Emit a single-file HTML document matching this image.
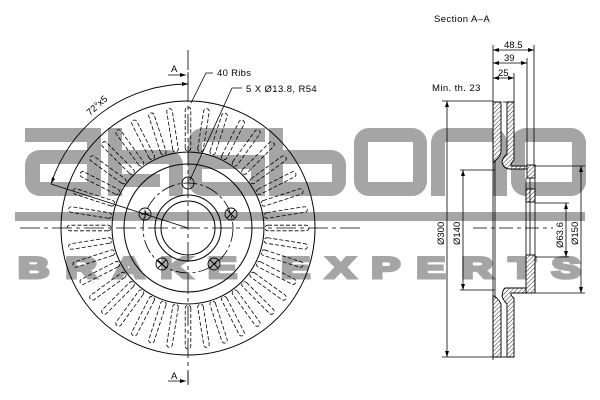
<!DOCTYPE html>
<html><head><meta charset="utf-8"><style>
html,body{margin:0;padding:0;background:#fff;}
svg{display:block;}
text{font-family:"Liberation Sans",sans-serif;}
</style></head><body>
<svg width="600" height="400" viewBox="0 0 600 400" xmlns="http://www.w3.org/2000/svg">
<defs>
<pattern id="h" width="3" height="3" patternUnits="userSpaceOnUse" patternTransform="rotate(45)">
<rect width="3" height="3" fill="#fff"/><line x1="0" y1="0" x2="0" y2="3" stroke="#000" stroke-width="0.8"/>
</pattern>
<path id="slot" d="M-2.8,-80 L-2.8,-118 A2.8,2.8 0 0 1 2.8,-118 L2.8,-80 A2.8,2.8 0 0 1 -2.8,-80 Z" fill="none" stroke="#000" stroke-width="0.8" stroke-dasharray="4,2"/>
</defs>

<g fill="#a5a5a5" stroke="none">
<rect x="25" y="128" width="76" height="14"/>
<rect x="87" y="128" width="14" height="68"/>
<path d="M40,150 H101 V196 H40 A15,15 0 0 1 25,181 V165 A15,15 0 0 1 40,150 Z M40,164 V182 H87 V164 Z" fill-rule="evenodd"/>
<rect x="108" y="128" width="14" height="68"/>
<path d="M108,150 H168 A15,15 0 0 1 183,165 V196 H169 V164 H122 V174 H160 V187 H108 Z"/>
<path d="M203,128 H265 V142 H203 A2,2 0 0 0 202,143 V155 H265 V196 H203 A15,15 0 0 1 188,181 V143 A15,15 0 0 1 203,128 Z M202,169 V181 A2,2 0 0 0 203,182 H251 V169 Z" fill-rule="evenodd"/>
<path d="M269,128 H283 V150 H331 A15,15 0 0 1 346,165 V181 A15,15 0 0 1 331,196 H269 Z M283,164 V182 H332 V164 Z" fill-rule="evenodd"/>
<path d="M369,128 H412 A15,15 0 0 1 427,143 V181 A15,15 0 0 1 412,196 H369 A15,15 0 0 1 354,181 V143 A15,15 0 0 1 369,128 Z M368,142 V182 H413 V142 Z" fill-rule="evenodd"/>
<path d="M446,128 H492 A15,15 0 0 1 507,143 V196 H493 V142 H445 V196 H431 V143 A15,15 0 0 1 446,128 Z"/>
<path d="M526,128 H571 A15,15 0 0 1 586,143 V181 A15,15 0 0 1 571,196 H526 A15,15 0 0 1 511,181 V143 A15,15 0 0 1 526,128 Z M525,142 V182 H572 V142 Z" fill-rule="evenodd"/>
<rect x="15" y="212" width="570" height="9"/>
<text transform="translate(18,278) scale(1.45,1)" x="0" y="0" font-size="30" font-weight="bold" stroke="#a5a5a5" stroke-width="3" textLength="388" lengthAdjust="spacing">BRAKE EXPERTS</text>
</g>

<g fill="none" stroke="#000" stroke-width="1">
<circle cx="188" cy="228" r="127"/>
<circle cx="188" cy="228" r="76"/>
<circle cx="188" cy="228" r="64"/>
<circle cx="188" cy="228" r="45" stroke-dasharray="14,3,3,3" stroke-width="0.8"/>
<circle cx="188" cy="228" r="33"/>
<circle cx="188" cy="228" r="27"/>
<g stroke-width="0.9">
<circle cx="188" cy="183" r="6"/>
<circle cx="231" cy="214" r="6"/><path d="M227,210 L235,218 M235,210 L227,218"/>
<circle cx="214" cy="264" r="6"/><path d="M210,260 L218,268 M218,260 L210,268"/>
<circle cx="162" cy="264" r="6"/><path d="M158,260 L166,268 M166,260 L158,268"/>
<circle cx="145" cy="214" r="6"/><path d="M141,214 H149 M145,210 V218"/>
</g>
<path d="M20,228 H360" stroke-width="0.8" stroke-dasharray="20,4,4,4"/>
<path d="M188,50 V385" stroke-width="0.8" stroke-dasharray="20,4,4,4"/>
<path d="M168,75 H186 M188,72 V84 M168,381 H186 M188,372 V384" stroke-width="0.8"/>
<path d="M188,84 A144,144 0 0 0 51,184" stroke-width="0.9"/>
<path d="M51,184 L188,228" stroke-width="0.8"/>
<path d="M213,73 H206 L191,103" stroke-width="0.8"/>
<path d="M242,88 H232 L190,180" stroke-width="0.8"/>
</g>
<g fill="#000">
<path d="M186,75 l-6,-2 v4 z"/><path d="M186,381 l-6,-2 v4 z"/>
<path d="M188,84 l-6,-2 l0,4 z"/>
<path d="M51,184 l1,-7 l3,2 z"/>
</g>
<g>
<use href="#slot" transform="translate(188,228) rotate(0)"/><use href="#slot" transform="translate(188,228) rotate(9)"/><use href="#slot" transform="translate(188,228) rotate(18)"/><use href="#slot" transform="translate(188,228) rotate(27)"/><use href="#slot" transform="translate(188,228) rotate(36)"/><use href="#slot" transform="translate(188,228) rotate(45)"/><use href="#slot" transform="translate(188,228) rotate(54)"/><use href="#slot" transform="translate(188,228) rotate(63)"/><use href="#slot" transform="translate(188,228) rotate(72)"/><use href="#slot" transform="translate(188,228) rotate(81)"/>
<use href="#slot" transform="translate(188,228) rotate(90)"/><use href="#slot" transform="translate(188,228) rotate(99)"/><use href="#slot" transform="translate(188,228) rotate(108)"/><use href="#slot" transform="translate(188,228) rotate(117)"/><use href="#slot" transform="translate(188,228) rotate(126)"/><use href="#slot" transform="translate(188,228) rotate(135)"/><use href="#slot" transform="translate(188,228) rotate(144)"/><use href="#slot" transform="translate(188,228) rotate(153)"/><use href="#slot" transform="translate(188,228) rotate(162)"/><use href="#slot" transform="translate(188,228) rotate(171)"/>
<use href="#slot" transform="translate(188,228) rotate(180)"/><use href="#slot" transform="translate(188,228) rotate(189)"/><use href="#slot" transform="translate(188,228) rotate(198)"/><use href="#slot" transform="translate(188,228) rotate(207)"/><use href="#slot" transform="translate(188,228) rotate(216)"/><use href="#slot" transform="translate(188,228) rotate(225)"/><use href="#slot" transform="translate(188,228) rotate(234)"/><use href="#slot" transform="translate(188,228) rotate(243)"/><use href="#slot" transform="translate(188,228) rotate(252)"/><use href="#slot" transform="translate(188,228) rotate(261)"/>
<use href="#slot" transform="translate(188,228) rotate(270)"/><use href="#slot" transform="translate(188,228) rotate(279)"/><use href="#slot" transform="translate(188,228) rotate(288)"/><use href="#slot" transform="translate(188,228) rotate(297)"/><use href="#slot" transform="translate(188,228) rotate(306)"/><use href="#slot" transform="translate(188,228) rotate(315)"/><use href="#slot" transform="translate(188,228) rotate(324)"/><use href="#slot" transform="translate(188,228) rotate(333)"/><use href="#slot" transform="translate(188,228) rotate(342)"/><use href="#slot" transform="translate(188,228) rotate(351)"/>
</g>

<g font-size="9.5" fill="#000">
<text x="171" y="72">A</text>
<text x="171" y="379">A</text>
<text x="217" y="76" letter-spacing="0.3">40  Ribs</text>
<text x="246" y="92" letter-spacing="0.4">5  X  Ø13.8,  R54</text>
<text x="0" y="0" transform="translate(90,116) rotate(-42)">72°x5</text>
<text x="434" y="22" letter-spacing="0.4">Section  A–A</text>
<text x="432" y="91" letter-spacing="0.4">Min.  th.  23</text>
<text x="504" y="48">48.5</text>
<text x="504" y="61">39</text>
<text x="498" y="76">25</text>
<text transform="translate(444,245) rotate(-90)">Ø300</text>
<text transform="translate(460,245) rotate(-90)">Ø140</text>
<text transform="translate(563,248) rotate(-90)">Ø63.6</text>
<text transform="translate(578,245) rotate(-90)">Ø150</text>
</g>

<g fill="url(#h)" stroke="#000" stroke-width="0.9">
<path d="M493,102 H501 V150 Q501,155 498,158 Q496,160 494,162 L493,162 Z"/>
<path d="M507,102 H514 V160 Q510,164 511,166 H527 V169 H509 Q503,168 502,162 Q503,157 507,154 Z"/>
<rect x="527" y="165" width="8" height="13"/>
<rect x="526" y="189" width="9" height="13"/>
<rect x="526" y="255" width="9" height="38"/>
<path d="M505,288 H526 V293 H511 Q510,295 514,298 V357 H507 V304 Q503,300 502,296 Q503,289 505,288 Z"/>
<path d="M493,296 L494,296 Q498,298 501,304 V357 H493 Z"/>
</g>
<g fill="none" stroke="#000" stroke-width="0.8">
<path d="M493,45 V360 M495,160 V298 M534,45 V166 M527,58 V165 M514,73 V102"/>
<path d="M526,178 V255 M530,178 V255 M535,165 V293"/>
<path d="M493,50 H534 M493,63 H527 M493,78 H514"/>
<path d="M447,101 V357 M442,101 H493 M442,357 H507"/>
<path d="M463,170 V290 M460,170 H495 M460,290 H495"/>
<path d="M566,203 V257 M535,203 H569 M535,257 H569"/>
<path d="M581,166 V293 M535,166 H585 M535,293 H585"/>
<path d="M473,228 H553" stroke-dasharray="14,4,4,4"/>
<path d="M503,102 H507 M503,357 H507"/>
</g>
<g fill="#000">
<path d="M493,50 l6,-2 v4z M534,50 l-6,-2 v4z M493,63 l6,-2 v4z M527,63 l-6,-2 v4z M493,78 l6,-2 v4z M514,78 l-6,-2 v4z"/>
<path d="M447,101 l-2,6 h4z M447,357 l-2,-6 h4z M463,170 l-2,6 h4z M463,290 l-2,-6 h4z M566,203 l-2,6 h4z M566,257 l-2,-6 h4z M581,166 l-2,6 h4z M581,293 l-2,-6 h4z"/>
</g>
</svg>
</body></html>
